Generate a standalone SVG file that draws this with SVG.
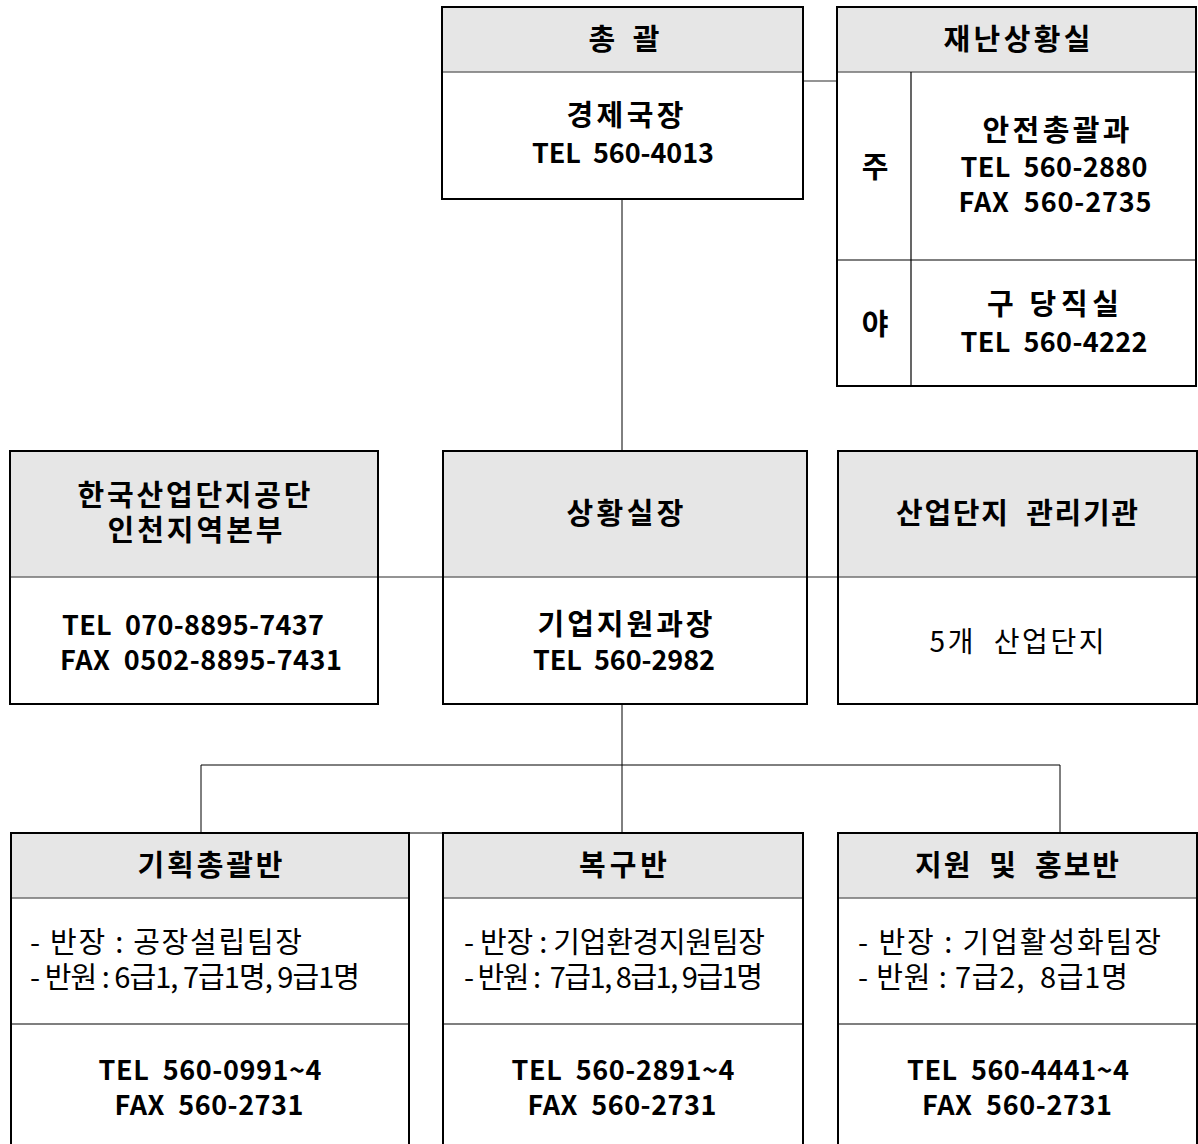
<svg xmlns="http://www.w3.org/2000/svg" width="1198" height="1144" viewBox="0 0 1198 1144">
<style>
.box{fill:#fff;stroke:#000;stroke-width:2}
.hdr{fill:#e6e6e6;stroke:none}
.frame{fill:none;stroke:#000;stroke-width:2}
.hl{stroke:#707070;stroke-width:1.5}
.dl{stroke:#000;stroke-width:1.2}
.con{stroke:#000;stroke-width:1;fill:none}
.cg{stroke:#707070;stroke-width:1.5;fill:none}
text{font-family:"Noto Sans CJK KR","Noto Sans",sans-serif;fill:#000}
.b{font-weight:bold;font-size:27px;text-anchor:middle}
.h{font-size:29px}
.r{font-size:29px}
.rc{font-size:28px;text-anchor:middle}
</style>
<g id="connectors">
<line class="cg" x1="803" y1="81" x2="837" y2="81"/>
<line class="con" x1="622" y1="199" x2="622" y2="451"/>
<line class="cg" x1="378" y1="577" x2="443" y2="577"/>
<line class="cg" x1="807" y1="577" x2="838" y2="577"/>
<line class="con" x1="622" y1="704" x2="622" y2="833"/>
<polyline class="con" points="201,833 201,765 1060,765 1060,833"/>
<line class="con" x1="409" y1="833" x2="443" y2="833"/>
</g>
<g id="chongwal">
<rect class="box" x="442" y="7" width="361" height="192"/>
<rect class="hdr" x="443" y="8" width="359" height="64"/>
<line class="hl" x1="442" y1="72" x2="803" y2="72"/>
<rect class="frame" x="442" y="7" width="361" height="192"/>
<text class="b h" x="624" y="50" textLength="71">총 괄</text>
<text class="b"><tspan class="h" x="625" y="126" textLength="117">경제국장</tspan><tspan x="623" y="163" textLength="182">TEL&#160; 560-4013</tspan></text>
</g>
<g id="disaster-room">
<rect class="box" x="837" y="7" width="359" height="379"/>
<rect class="hdr" x="838" y="8" width="357" height="64"/>
<line class="hl" x1="837" y1="72" x2="1196" y2="72"/>
<line class="dl" x1="911" y1="72" x2="911" y2="386"/>
<line class="dl" x1="837" y1="260" x2="1196" y2="260"/>
<rect class="frame" x="837" y="7" width="359" height="379"/>
<text class="b h" x="1017" y="50" textLength="147">재난상황실</text>
<text class="b h" x="875" y="178">주</text>
<text class="b h" x="875" y="335">야</text>
<text class="b"><tspan class="h" x="1056" y="141" textLength="147">안전총괄과</tspan><tspan x="1054" y="177" textLength="187">TEL&#160; 560-2880</tspan><tspan x="1055" y="212" textLength="193">FAX&#160; 560-2735</tspan></text>
<text class="b"><tspan class="h" x="1053" y="315" textLength="132">구 당직실</tspan><tspan x="1054" y="352" textLength="187">TEL&#160; 560-4222</tspan></text>
</g>
<g id="kicox">
<rect class="box" x="10" y="451" width="368" height="253"/>
<rect class="hdr" x="11" y="452" width="366" height="125"/>
<line class="hl" x1="10" y1="577" x2="378" y2="577"/>
<rect class="frame" x="10" y="451" width="368" height="253"/>
<text class="b h"><tspan x="194" y="506" textLength="233">한국산업단지공단</tspan><tspan x="195" y="541" textLength="175">인천지역본부</tspan></text>
<text class="b"><tspan x="193" y="635" textLength="262">TEL&#160; 070-8895-7437</tspan><tspan x="201" y="670" textLength="282">FAX&#160; 0502-8895-7431</tspan></text>
</g>
<g id="situation-chief">
<rect class="box" x="443" y="451" width="364" height="253"/>
<rect class="hdr" x="444" y="452" width="362" height="125"/>
<line class="hl" x1="443" y1="577" x2="807" y2="577"/>
<rect class="frame" x="443" y="451" width="364" height="253"/>
<text class="b h" x="625" y="524" textLength="117">상황실장</text>
<text class="b"><tspan class="h" x="625" y="635" textLength="175">기업지원과장</tspan><tspan x="624" y="670" textLength="182">TEL&#160; 560-2982</tspan></text>
</g>
<g id="industrial-complex">
<rect class="box" x="838" y="451" width="359" height="253"/>
<rect class="hdr" x="839" y="452" width="357" height="125"/>
<line class="hl" x1="838" y1="577" x2="1197" y2="577"/>
<rect class="frame" x="838" y="451" width="359" height="253"/>
<text class="b h" x="1017" y="524" textLength="242">산업단지&#160; 관리기관</text>
<text class="rc" x="1017" y="652" textLength="175">5개&#160; 산업단지</text>
</g>
<g id="planning-team">
<rect class="box" x="11" y="833" width="398" height="320"/>
<rect class="hdr" x="12" y="834" width="396" height="64"/>
<line class="hl" x1="11" y1="898" x2="409" y2="898"/>
<line class="dl" x1="11" y1="1024" x2="409" y2="1024"/>
<rect class="frame" x="11" y="833" width="398" height="320"/>
<text class="b h" x="210" y="876" textLength="145">기획총괄반</text>
<text class="r"><tspan x="30" y="953" textLength="272">- 반장 : 공장설립팀장</tspan><tspan x="30" y="988" textLength="330">- 반원 : 6급1, 7급1명, 9급1명</tspan></text>
<text class="b"><tspan x="210" y="1080" textLength="223">TEL&#160; 560-0991~4</tspan><tspan x="209" y="1115" textLength="189">FAX&#160; 560-2731</tspan></text>
</g>
<g id="recovery-team">
<rect class="box" x="443" y="833" width="360" height="320"/>
<rect class="hdr" x="444" y="834" width="358" height="64"/>
<line class="hl" x1="443" y1="898" x2="803" y2="898"/>
<line class="dl" x1="443" y1="1024" x2="803" y2="1024"/>
<rect class="frame" x="443" y="833" width="360" height="320"/>
<text class="b h" x="623" y="876" textLength="88">복구반</text>
<text class="r"><tspan x="464" y="953" textLength="301">- 반장 : 기업환경지원팀장</tspan><tspan x="464" y="988" textLength="299">- 반원 :&#160; 7급1, 8급1, 9급1명</tspan></text>
<text class="b"><tspan x="623" y="1080" textLength="223">TEL&#160; 560-2891~4</tspan><tspan x="622" y="1115" textLength="189">FAX&#160; 560-2731</tspan></text>
</g>
<g id="support-team">
<rect class="box" x="838" y="833" width="359" height="320"/>
<rect class="hdr" x="839" y="834" width="357" height="64"/>
<line class="hl" x1="838" y1="898" x2="1197" y2="898"/>
<line class="dl" x1="838" y1="1024" x2="1197" y2="1024"/>
<rect class="frame" x="838" y="833" width="359" height="320"/>
<text class="b h" x="1017" y="876" textLength="204">지원&#160; 및&#160; 홍보반</text>
<text class="r"><tspan x="858" y="953" textLength="303">- 반장 : 기업활성화팀장</tspan><tspan x="858" y="988" textLength="270">- 반원 : 7급2,&#160; 8급1명</tspan></text>
<text class="b"><tspan x="1018" y="1080" textLength="222">TEL&#160; 560-4441~4</tspan><tspan x="1017" y="1115" textLength="190">FAX&#160; 560-2731</tspan></text>
</g>
</svg>
